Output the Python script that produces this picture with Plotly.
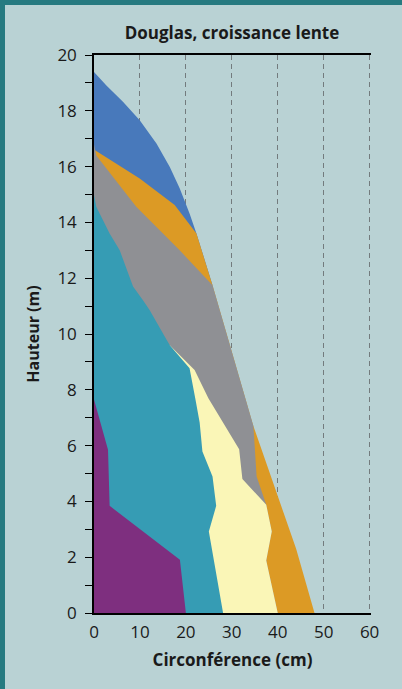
import plotly.graph_objects as go

# Profils de la tige (circonférence en cm, hauteur en m), de la base vers le sommet
blue_c = [25.8, 22.3, 20.8, 18.65, 16.5, 13.6, 9.95, 6.3, 2.7, 0.0]
blue_h = [11.75, 13.6, 14.32, 15.22, 15.99, 16.83, 17.66, 18.32, 18.91, 19.39]

orange_c = [48.0, 44.0, 34.6, 25.8, 22.3, 17.56, 9.95, 0.4, 0.0]
orange_h = [0.0, 2.3, 6.75, 11.75, 13.6, 14.62, 15.57, 16.57, 16.6]

grey_c = [40.0, 37.5, 38.7, 37.5, 35.4, 34.7, 25.8, 18.65, 9.2, 0.5, 0.0]
grey_h = [0.0, 1.88, 2.92, 3.88, 4.89, 6.7, 11.75, 13.0, 14.56, 16.4, 16.8]

yellow_c = [40.0, 37.5, 38.7, 37.5, 32.3, 31.6, 24.9, 21.9, 16.5]
yellow_h = [0.0, 1.88, 2.92, 3.88, 4.8, 5.87, 7.7, 8.71, 9.6]

teal_c = [28.1, 25.0, 26.6, 25.8, 23.6, 23.0, 22.1, 20.8, 16.5, 15.8, 12.1, 10.7, 8.5, 5.6, 3.4, 0.5, 0.0]
teal_h = [0.0, 2.92, 3.84, 4.89, 5.79, 6.83, 7.64, 8.77, 9.6, 9.79, 10.86, 11.2, 11.7, 13.0, 13.6, 14.56, 14.98]

purple_c = [20.0, 18.7, 3.4, 3.05, 0.0]
purple_h = [0.0, 1.91, 3.84, 5.85, 7.65]

profiles = [
    (blue_c, blue_h, "#4879bb"),
    (orange_c, orange_h, "#dc9a25"),
    (grey_c, grey_h, "#8f9094"),
    (yellow_c, yellow_h, "#faf6b7"),
    (teal_c, teal_h, "#369cb4"),
    (purple_c, purple_h, "#7e2f7f"),
]

BG = "#b9d2d4"
BORDER = "#267a80"
FONT = "Open Sans"
INK = "#1a1a1a"

W, H = 402, 689
L, R, T, B = 94, 31, 55, 76
PW, PH = W - L - R, H - T - B

fig = go.Figure()
for c, h, col in profiles:
    fig.add_trace(go.Scatter(
        x=c, y=h, mode="none", fill="tozerox", fillcolor=col,
        hoverinfo="skip", showlegend=False,
    ))

# bordure sarcelle à gauche et en haut
bw = 5
fig.add_shape(type="rect", xref="paper", yref="paper",
              x0=(-L - 10) / PW, x1=(-L + bw) / PW, y0=(-B - 10) / PH, y1=(PH + T + 10) / PH,
              fillcolor=BORDER, line_width=0)
fig.add_shape(type="rect", xref="paper", yref="paper",
              x0=(-L - 10) / PW, x1=(PW + R + 10) / PW, y0=(PH + T - bw) / PH, y1=(PH + T + 10) / PH,
              fillcolor=BORDER, line_width=0)

fig.update_layout(
    width=W, height=H,
    margin=dict(l=L, r=R, t=T, b=B),
    paper_bgcolor=BG, plot_bgcolor=BG,
    font=dict(family=FONT, color=INK, size=16),
    title=dict(text="<b>Douglas, croissance lente</b>", x=(L + 276 / 2) / W, xanchor="center",
               y=1 - 33 / H, yanchor="middle", font=dict(size=17, family=FONT, color=INK)),
    xaxis=dict(
        range=[0, 60.3], tickvals=[0, 10, 20, 30, 40, 50, 60],
        showgrid=True, gridcolor="#737b7d", griddash="5px,4px", gridwidth=1.3,
        showline=True, linecolor="black", linewidth=1.5, mirror=True,
        ticks="", zeroline=False, ticklabelstandoff=3,
        tickfont=dict(size=17),
        title=dict(text="<b>Circonférence (cm)</b>", standoff=12, font=dict(size=17)),
    ),
    yaxis=dict(
        range=[0, 20], tickvals=[0, 2, 4, 6, 8, 10, 12, 14, 16, 18, 20],
        showgrid=False, zeroline=False,
        showline=True, linecolor="black", linewidth=1.5,
        ticks="outside", ticklen=7, tickwidth=1.3, tickcolor="black",
        minor=dict(dtick=1, ticks="outside", ticklen=7, tickwidth=1.3, tickcolor="black"),
        ticklabelstandoff=5, tickfont=dict(size=17),
        title=dict(text="<b>Hauteur (m)</b>", standoff=14, font=dict(size=16)),
    ),
)

fig.write_html(
    "out.html", config={"displayModeBar": False},
    post_script=("document.body.style.margin='0';"
                 "document.body.style.overflow='hidden';"
                 "document.documentElement.style.overflow='hidden';"),
)
